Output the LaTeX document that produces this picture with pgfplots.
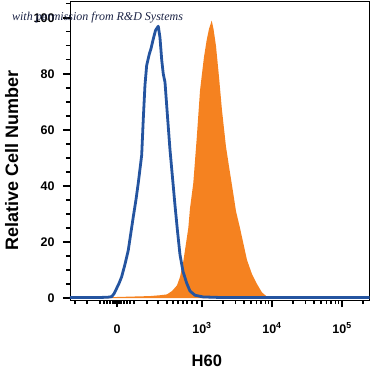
\documentclass[border=0pt]{standalone}
\usepackage{fontspec}
\setmainfont{Liberation Sans}
\newfontfamily\wmfont{Liberation Serif}
\usepackage{pgfplots}
\pgfplotsset{compat=1.18}
\definecolor{rdblue}{RGB}{36,84,160}
\definecolor{rdorange}{RGB}{245,130,32}
\definecolor{wmcol}{RGB}{28,36,70}
\begin{document}
\begin{tikzpicture}
\begin{axis}[
  scale only axis,
  width=299.5pt, height=299pt,
  xmin=-0.671, xmax=3.607,
  ymin=-0.7, ymax=106,
  axis line style={black, line width=0.9pt},
  tick align=outside,
  xtick pos=bottom, ytick pos=left,
  major tick length=7pt,
  minor tick length=4pt,
  every tick/.style={black, line width=1.4pt},
  minor tick style={black, line width=1.3pt},
  xtick={0,1.214,2.214,3.214},
  xticklabels={0, 10\textsuperscript{3}, 10\textsuperscript{4}, 10\textsuperscript{5}},
  minor xtick={-0.600,-0.429,-0.243,-0.186,-0.143,-0.100,-0.057,-0.029,0.029,0.057,0.100,0.143,0.186,0.243,0.429,0.586,0.714,0.800,0.871,0.943,1.000,1.071,1.143,1.515,1.691,1.816,1.913,1.992,2.059,2.117,2.168,2.515,2.691,2.816,2.913,2.992,3.059,3.117,3.168,3.515},
  ytick={0,20,40,60,80,100},
  yticklabels={0,20,40,60,80,100},
  minor ytick={5,10,15,25,30,35,45,50,55,65,70,75,85,90,95,105},
  tick label style={font=\bfseries\fontsize{12.5}{14}\selectfont},
  xticklabel style={anchor=base, yshift=-26pt},
  yticklabel style={xshift=-5pt},
  xlabel={H60},
  ylabel={Relative Cell Number},
  xlabel style={font=\bfseries\fontsize{16.5}{18}\selectfont, at={(axis description cs:0.457,-0.224)}, anchor=base},
  ylabel style={font=\bfseries\fontsize{18}{20}\selectfont, at={(axis description cs:-0.1736,0.465)}, anchor=base},
]
\coordinate (sw) at (rel axis cs:0,0);
\coordinate (ne) at (rel axis cs:1,1);
\coordinate (wm) at (axis description cs:-0.194,0.936);
\addplot[fill=rdorange, draw=none] coordinates {
(-0.671,0.1) (-0.243,0.2) (0.043,0.4) (0.471,0.7) (0.614,1.0) (0.714,1.3)
(0.786,2.5) (0.857,4.5) (0.9,7.5) (0.947,13) (0.971,17) (1.019,25)
(1.043,32) (1.09,41) (1.139,57) (1.186,74) (1.214,80) (1.243,86)
(1.281,92) (1.314,96) (1.353,99) (1.379,96) (1.414,90) (1.457,79)
(1.5,67) (1.557,54) (1.6,47) (1.657,38) (1.7,31) (1.757,25)
(1.857,13.6) (1.929,8.5) (2.0,5) (2.071,2) (2.143,0.5) (2.257,0.1) (3.607,0.1)
} \closedcycle;
\addplot[rdblue, line width=2.8pt, no marks, line join=round] coordinates {
(-0.671,0.2) (-0.243,0.2) (-0.129,0.3) (-0.076,0.5) (-0.043,1.5) (-0.004,3.5)
(0.029,5.2) (0.067,7.6) (0.114,12) (0.161,17) (0.197,23) (0.233,29)
(0.271,35) (0.304,41) (0.353,51) (0.376,64) (0.4,76) (0.424,83)
(0.461,87) (0.486,89) (0.514,92) (0.55,95.5) (0.59,97) (0.614,93)
(0.639,85) (0.661,80) (0.686,77) (0.721,65) (0.757,53) (0.793,43)
(0.829,33) (0.864,24) (0.9,15.5) (0.943,9.5) (0.996,5.3) (1.043,2.5)
(1.114,1) (1.229,0.4) (1.471,0.2) (3.607,0.2)
};
\end{axis}
\node[anchor=base west, font=\wmfont\itshape\fontsize{12}{14}\selectfont, text=wmcol, inner sep=0pt]
  at (wm) {with permission from R\&D Systems};
\pgfresetboundingbox
\path[use as bounding box] ([shift={(-70pt,-72pt)}]sw) rectangle ([shift={(1.5pt,1pt)}]ne);
\end{tikzpicture}
\end{document}
